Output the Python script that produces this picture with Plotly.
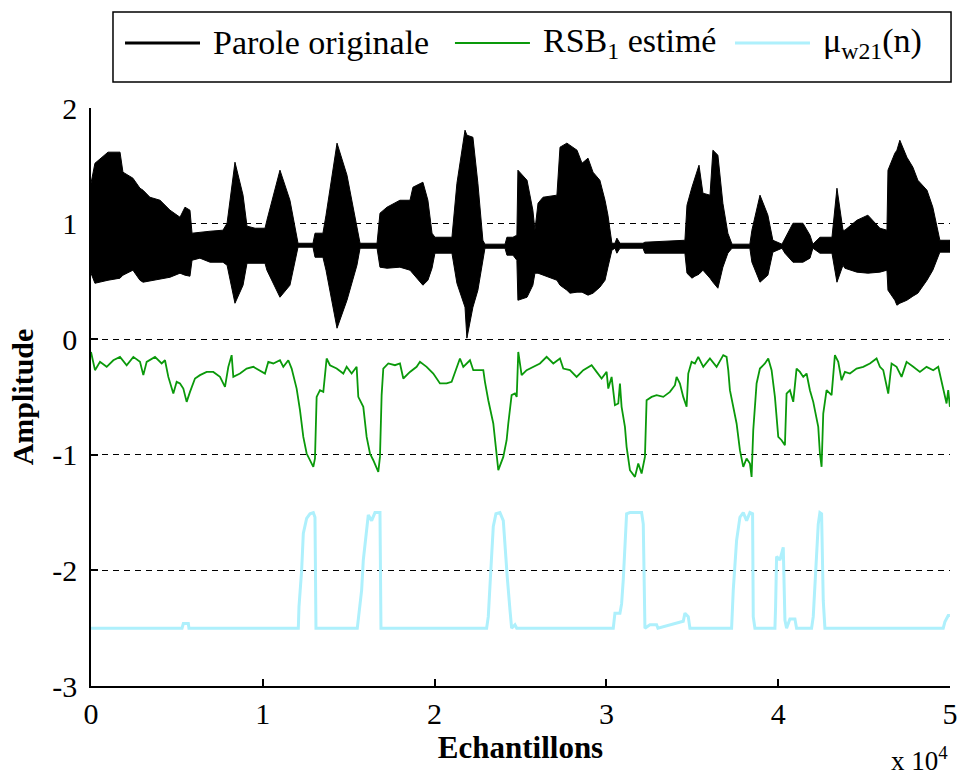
import plotly.graph_objects as go

# ---------------- data ----------------
# Speech signal "Parole originale": envelope (upper / lower) of the dense waveform
speech_x = [0, 230, 990, 1690, 1860, 2440, 2850, 3030, 3430, 4020, 4600, 5180, 5470, 5760,
            5880, 6340, 6930, 7680, 7920, 8380, 8850, 9080, 9550, 10130, 10240, 11000, 11580,
            12050, 12920, 13040, 13500, 13680, 14320, 14900, 15480, 15660, 16650, 16820, 17230,
            17980, 18570, 18740, 19320, 19610, 19850, 20020, 21010, 21300, 21770, 21880, 22230,
            22520, 22810, 22930, 24100, 24210, 24560, 24790, 24850, 25380, 25720, 25840, 26020,
            26310, 27120, 27300, 27700, 27880, 28290, 28580, 28930, 29220, 29620, 29920, 30090,
            30320, 30500, 30610, 30790, 32130, 32240, 34570, 34690, 34980, 35150, 35390, 35620,
            36030, 36200, 36490, 36780, 37070, 37310, 38350, 38470, 38940, 39400, 39690, 40220,
            40390, 40860, 41440, 41850, 42020, 42430, 43130, 43420, 43770, 43880, 44580, 45220,
            45920, 46330, 46390, 46790, 46910, 47080, 47490, 47840, 48130, 48660, 49000, 49240,
            49410, 50000]
speech_upper = [1.349, 1.522, 1.618, 1.618, 1.445, 1.393, 1.306, 1.289, 1.228, 1.202, 1.116, 1.055, 1.142, 1.116,
                0.917, 0.926, 0.934, 0.943, 1.003, 1.531, 1.246, 0.978, 0.960, 0.960, 1.029, 1.462, 1.202,
                0.830, 0.830, 0.917, 0.917, 1.073, 1.696, 1.419, 0.986, 0.830, 0.830, 1.090, 1.142,
                1.202, 1.202, 1.315, 1.358, 1.202, 0.917, 0.882, 0.882, 1.349, 1.808, 1.765, 1.747,
                1.349, 0.856, 0.822, 0.822, 0.882, 0.882, 0.900, 1.462, 1.375, 1.116, 0.943, 1.176,
                1.228, 1.246, 1.661, 1.696, 1.678, 1.635, 1.522, 1.566, 1.445, 1.375, 1.202, 1.073,
                0.830, 0.830, 0.874, 0.830, 0.830, 0.839, 0.856, 1.159, 1.315, 1.401, 1.505, 1.263,
                1.246, 1.635, 1.592, 1.176, 0.917, 0.822, 0.822, 0.943, 1.246, 1.073, 0.856, 0.822,
                0.874, 1.003, 1.003, 0.900, 0.822, 0.882, 0.882, 1.306, 0.943, 0.943, 1.029, 1.073,
                0.960, 0.943, 1.462, 1.609, 1.635, 1.721, 1.574, 1.488, 1.375, 1.289, 1.142, 0.986,
                0.856, 0.856]
speech_lower = [0.571, 0.484, 0.510, 0.528, 0.554, 0.597, 0.510, 0.493, 0.502, 0.519, 0.536, 0.571, 0.554, 0.545,
                0.683, 0.701, 0.666, 0.666, 0.640, 0.311, 0.467, 0.657, 0.657, 0.657, 0.597, 0.363, 0.467,
                0.796, 0.796, 0.709, 0.709, 0.597, 0.095, 0.337, 0.640, 0.787, 0.787, 0.623, 0.614,
                0.623, 0.597, 0.571, 0.467, 0.510, 0.614, 0.744, 0.744, 0.484, 0.277, 0.009, 0.277,
                0.424, 0.683, 0.787, 0.787, 0.727, 0.727, 0.683, 0.337, 0.363, 0.467, 0.571, 0.571,
                0.554, 0.510, 0.467, 0.424, 0.398, 0.407, 0.407, 0.381, 0.398, 0.450, 0.510, 0.623,
                0.770, 0.787, 0.744, 0.787, 0.787, 0.744, 0.744, 0.571, 0.528, 0.545, 0.562, 0.597,
                0.528, 0.493, 0.441, 0.623, 0.744, 0.787, 0.787, 0.666, 0.493, 0.554, 0.753, 0.787,
                0.744, 0.666, 0.666, 0.701, 0.787, 0.744, 0.744, 0.493, 0.640, 0.614, 0.580, 0.571,
                0.580, 0.597, 0.424, 0.337, 0.294, 0.311, 0.337, 0.372, 0.398, 0.510, 0.597, 0.683,
                0.753, 0.753]

# "RSB_1 estimé"
rsb_x = [0, 233, 524, 912, 1300, 1688, 2076, 2464, 2852, 3046, 3240, 3725, 4113, 4307, 4501, 4792,
         4986, 5180, 5374, 5568, 5762, 6053, 6344, 6732, 7120, 7508, 7799, 7993, 8187, 8284, 8672,
         9060, 9448, 9836, 10127, 10321, 10612, 11000, 11194, 11485, 11679, 11970, 12164, 12358,
         12552, 12940, 13037, 13134, 13328, 13522, 13716, 13910, 14298, 14686, 14880, 15171, 15462,
         15559, 15850, 16044, 16238, 16432, 16723, 16820, 16917, 17014, 17305, 17693, 17984, 18178,
         18566, 18954, 19148, 19536, 19924, 20312, 20700, 20991, 21282, 21476, 21670, 22058, 22252,
         22834, 22931, 23125, 23416, 23610, 23707, 23998, 24192, 24289, 24483, 24677, 24780, 24870,
         25065, 25356, 25744, 26132, 26520, 26908, 27296, 27490, 27878, 28266, 28654, 29139, 29430,
         29721, 30012, 30109, 30303, 30497, 30691, 30788, 30885, 31079, 31176, 31370, 31661, 31855,
         32049, 32243, 32340, 32631, 32922, 33310, 33698, 33989, 34086, 34280, 34474, 34668, 34765,
         34959, 35153, 35347, 35638, 36026, 36414, 36802, 36996, 37093, 37190, 37384, 37578, 37772,
         37966, 38160, 38354, 38451, 38548, 38742, 38936, 39227, 39421, 39615, 39809, 40003, 40197,
         40391, 40488, 40682, 40876, 41070, 41264, 41458, 41652, 41846, 42040, 42331, 42428, 42525,
         42622, 42816, 43107, 43301, 43495, 43689, 43883, 44174, 44562, 44950, 45338, 45726, 45920,
         46114, 46405, 46599, 46890, 47181, 47472, 47860, 48248, 48636, 49024, 49315, 49509, 49703,
         49800, 49897, 49994]
rsb_y = [-0.11, -0.268, -0.196, -0.239, -0.182, -0.153, -0.225, -0.153, -0.196, -0.311, -0.196, -0.153, -0.21, -0.182, -0.326, -0.47,
         -0.369, -0.383, -0.427, -0.542, -0.456, -0.34, -0.311, -0.283, -0.283, -0.326, -0.412, -0.239, -0.138, -0.326, -0.297,
         -0.254, -0.239, -0.268, -0.297, -0.196, -0.21, -0.182, -0.239, -0.182, -0.254, -0.427, -0.614, -0.845,
         -0.989, -1.104, -1.032, -0.499, -0.441, -0.456, -0.167, -0.225, -0.254, -0.297, -0.239, -0.297, -0.239,
         -0.499, -0.585, -0.845, -0.989, -1.047, -1.148, -1.018, -0.484, -0.254, -0.21, -0.225, -0.21, -0.34,
         -0.283, -0.239, -0.196, -0.239, -0.297, -0.383, -0.383, -0.369, -0.239, -0.167, -0.239, -0.182, -0.268,
         -0.268, -0.369, -0.528, -0.729, -0.989, -1.133, -1.018, -0.874, -0.729, -0.484, -0.47, -0.499, -0.11,
         -0.311, -0.268, -0.239, -0.21, -0.153, -0.21, -0.167, -0.254, -0.268, -0.326, -0.268, -0.225, -0.283,
         -0.34, -0.283, -0.427, -0.326, -0.571, -0.556, -0.383, -0.585, -0.758, -0.931, -1.133, -1.191, -1.075,
         -1.162, -1.018, -0.528, -0.499, -0.484, -0.499, -0.456, -0.398, -0.326, -0.383, -0.499, -0.585, -0.297,
         -0.196, -0.21, -0.153, -0.239, -0.167, -0.239, -0.138, -0.153, -0.268, -0.441, -0.585, -0.729, -0.96,
         -1.104, -1.032, -1.075, -1.191, -0.787, -0.383, -0.254, -0.21, -0.167, -0.268, -0.499, -0.845, -0.874,
         -0.917, -0.47, -0.441, -0.542, -0.254, -0.283, -0.326, -0.297, -0.441, -0.542, -0.758, -0.989, -1.104,
         -0.643, -0.441, -0.484, -0.138, -0.196, -0.355, -0.283, -0.297, -0.254, -0.239, -0.21, -0.167, -0.239,
         -0.268, -0.47, -0.21, -0.239, -0.326, -0.196, -0.239, -0.283, -0.239, -0.268, -0.239, -0.369, -0.499,
         -0.556, -0.441, -0.585]

# "mu_w21(n)" (offset curve)
mu_x = [0, 5300, 5374, 5665, 5700, 12067, 12106, 12261, 12358, 12552, 12746, 12940, 13037, 13095,
        15500, 15559, 15753, 15850, 16044, 16141, 16335, 16529, 16820, 16878, 23028, 23125, 23261,
        23416, 23571, 23804, 23998, 24095, 24230, 24386, 24483, 24677, 24780, 30400, 30497, 30788,
        30885, 30982, 31079, 31176, 31370, 32049, 32146, 32243, 32534, 32922, 33000, 34474, 34571,
        34765, 34862, 37287, 37384, 37578, 37772, 37966, 38160, 38354, 38509, 38548, 38645, 39809,
        39848, 39906, 40100, 40294, 40391, 40488, 40682, 40973, 41070, 41943, 42040, 42234, 42331,
        42428, 42525, 42622, 42719, 49606, 49703, 49897, 49994]
mu_y = [-2.5, -2.5, -2.46, -2.46, -2.5, -2.5, -2.315, -2.0, -1.68, -1.55, -1.51, -1.5, -1.54, -2.5,
        -2.5, -2.42, -2.17, -1.91, -1.62, -1.52, -1.57, -1.5, -1.5, -2.5, -2.5, -2.4, -2.03,
        -1.62, -1.51, -1.5, -1.57, -1.8, -2.06, -2.34, -2.5, -2.47, -2.5, -2.5, -2.37, -2.37,
        -2.29, -2.08, -1.74, -1.51, -1.5, -1.5, -1.6, -2.5, -2.47, -2.47, -2.5, -2.44, -2.37,
        -2.4, -2.5, -2.5, -2.17, -1.74, -1.54, -1.5, -1.57, -1.5, -1.51, -2.4, -2.5, -2.5,
        -2.315, -1.88, -1.91, -1.8, -2.43, -2.5, -2.42, -2.42, -2.5, -2.5, -2.4, -1.88, -1.6,
        -1.5, -1.51, -2.26, -2.5, -2.5, -2.445, -2.39, -2.39]

x_tickvals = [0, 10000, 20000, 30000, 40000, 50000]
x_ticktext = ["0", "1", "2", "3", "4", "5"]
y_tickvals = [-3, -2, -1, 0, 1, 2]
y_ticktext = ["-3", "-2", "-1", "0", "1", "2"]

legend_names = ["Parole originale", "RSB<sub>1</sub> estimé", "μ<sub>w21</sub>(n)"]
legend_colors = ["black", "#0a990a", "#aef0fc"]
legend_widths = [3, 2, 3]

FONT = "Liberation Serif"

fig = go.Figure()

# filled envelope of the speech waveform
fig.add_trace(go.Scatter(
    x=speech_x + speech_x[::-1],
    y=speech_upper + speech_lower[::-1],
    fill="toself", fillcolor="black", mode="lines",
    line=dict(color="black", width=1),
    name=legend_names[0], showlegend=False, hoverinfo="skip"))
fig.add_trace(go.Scatter(x=rsb_x, y=rsb_y, mode="lines",
                         line=dict(color=legend_colors[1], width=1.8),
                         name=legend_names[1], showlegend=False))
fig.add_trace(go.Scatter(x=mu_x, y=mu_y, mode="lines",
                         line=dict(color=legend_colors[2], width=3),
                         name=legend_names[2], showlegend=False))

# legend box drawn in paper coordinates (long line samples as in the reference)
shapes = [dict(type="rect", xref="paper", yref="paper", x0=0.0256, x1=1.0012, y0=1.045, y1=1.166,
               line=dict(color="black", width=1.5), fillcolor="white", layer="above")]
annotations = []
line_starts = [0.0396, 0.4237, 0.7497]
LEG_Y = 1.1125
for name, col, w, x0 in zip(legend_names, legend_colors, legend_widths, line_starts):
    shapes.append(dict(type="line", xref="paper", yref="paper", x0=x0, x1=x0 + 0.0873,
                       y0=LEG_Y, y1=LEG_Y, line=dict(color=col, width=w)))
    annotations.append(dict(text=name, xref="paper", yref="paper", x=x0 + 0.1, y=LEG_Y,
                            xanchor="left", yanchor="middle", showarrow=False,
                            font=dict(family=FONT, size=34, color="black")))

annotations.append(dict(text="x 10<sup>4</sup>", xref="paper", yref="paper",
                        x=1.0, y=-0.093, xanchor="right", yanchor="top", showarrow=False,
                        font=dict(family=FONT, size=27, color="black")))

fig.update_layout(
    width=960, height=780,
    margin=dict(l=91, r=10, t=108, b=94),
    paper_bgcolor="white", plot_bgcolor="white",
    font=dict(family=FONT, color="black", size=30),
    showlegend=False,
    xaxis=dict(range=[0, 50000], tickvals=x_tickvals, ticktext=x_ticktext,
               ticks="inside", ticklen=7, tickcolor="black", tickwidth=1.5,
               showline=True, linecolor="black", linewidth=1.5,
               showgrid=False, zeroline=False, automargin=False,
               tickfont=dict(family=FONT, size=30, color="black"),
               title=dict(text="<b>Echantillons</b>", font=dict(family=FONT, size=31),
                          standoff=4)),
    yaxis=dict(range=[-3, 2], tickvals=y_tickvals, ticktext=y_ticktext,
               ticks="inside", ticklen=7, tickcolor="black", tickwidth=1.5,
               showline=True, linecolor="black", linewidth=1.5,
               showgrid=True, gridcolor="black", gridwidth=1, griddash="6px,5px",
               zeroline=False, automargin=False, ticklabelstandoff=6,
               tickfont=dict(family=FONT, size=30, color="black"),
               title=dict(text="<b>Amplitude</b>", font=dict(family=FONT, size=30),
                          standoff=10)),
    shapes=shapes,
    annotations=annotations,
)

fig.write_html("out.html")
